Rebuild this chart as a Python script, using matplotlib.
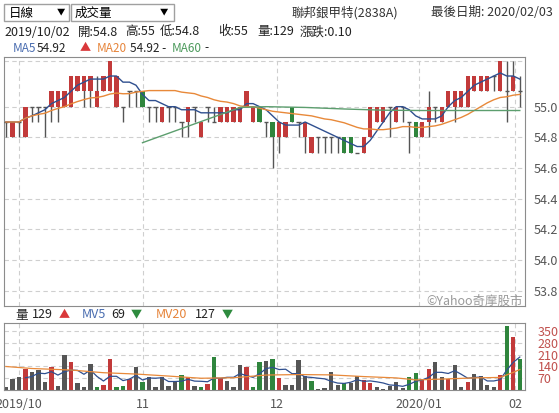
import numpy as np
import pandas as pd
import matplotlib
matplotlib.use("Agg")
import matplotlib.pyplot as plt
from matplotlib.patches import Rectangle

plt.rcParams['font.family'] = ['Noto Sans CJK TC', 'DejaVu Sans']

# daily candles (oldest first)
opens = [54.9, 54.8, 54.9, 54.8, 55.0, 55.0, 55.0, 55.0, 55.0, 55.0,
         55.0, 55.1, 55.1, 55.1, 55.0, 55.1, 55.1, 55.0, 55.0, 55.1,
         55.1, 55.1, 55.0, 55.0, 54.9, 55.0, 55.0, 54.9, 54.9, 55.0,
         54.8, 55.0, 54.9, 54.9, 54.9, 54.9, 54.9, 55.0, 54.9, 55.0,
         54.9, 54.9, 54.8, 54.8, 55.0, 54.9, 54.8, 54.7, 54.8, 54.8,
         54.8, 54.8, 54.8, 54.8, 54.7, 54.7, 54.8, 54.9, 54.9, 55.0,
         54.9, 55.0, 54.9, 54.9, 54.8, 54.9, 55.0, 54.9, 55.0, 55.0,
         55.0, 55.0, 55.1, 55.1, 55.1, 55.2, 55.1, 55.1, 55.1, 55.1]
highs = [54.9, 54.9, 54.9, 55.0, 55.0, 55.0, 55.0, 55.1, 55.1, 55.1,
         55.2, 55.2, 55.2, 55.2, 55.2, 55.2, 55.3, 55.2, 55.0, 55.1,
         55.1, 55.1, 55.0, 55.0, 55.0, 55.0, 55.0, 54.9, 55.0, 55.0,
         54.9, 55.0, 55.0, 55.0, 55.0, 55.0, 55.0, 55.1, 55.0, 55.0,
         54.9, 54.9, 54.9, 54.9, 55.0, 54.9, 54.9, 54.8, 54.8, 54.8,
         54.8, 54.8, 54.8, 54.8, 54.7, 54.8, 55.0, 55.0, 55.0, 55.0,
         55.0, 55.0, 54.9, 54.9, 54.9, 55.1, 55.0, 55.0, 55.1, 55.1,
         55.1, 55.2, 55.2, 55.2, 55.2, 55.2, 55.3, 55.3, 55.3, 55.2]
lows = [54.8, 54.8, 54.8, 54.8, 54.9, 54.9, 54.8, 54.9, 54.9, 55.0,
        55.0, 55.1, 55.0, 55.0, 55.0, 55.1, 55.1, 55.0, 54.9, 55.0,
        55.0, 55.0, 54.9, 54.9, 54.9, 54.9, 54.9, 54.8, 54.8, 54.9,
        54.8, 54.9, 54.9, 54.9, 54.9, 54.9, 54.9, 55.0, 54.9, 54.9,
        54.8, 54.6, 54.7, 54.8, 54.9, 54.8, 54.7, 54.7, 54.7, 54.7,
        54.7, 54.7, 54.7, 54.7, 54.7, 54.7, 54.8, 54.9, 54.9, 54.8,
        54.9, 54.9, 54.7, 54.8, 54.8, 54.8, 54.9, 54.9, 55.0, 54.9,
        55.0, 55.0, 55.1, 55.1, 55.1, 55.1, 55.1, 54.9, 55.1, 55.0]
closes = [54.9, 54.9, 54.9, 55.0, 55.0, 55.0, 55.0, 55.1, 55.1, 55.1,
          55.2, 55.2, 55.2, 55.2, 55.1, 55.2, 55.3, 55.2, 55.0, 55.1,
          55.1, 55.0, 55.0, 55.0, 55.0, 55.0, 55.0, 54.9, 55.0, 55.0,
          54.9, 55.0, 54.9, 55.0, 55.0, 55.0, 55.0, 55.1, 55.0, 54.9,
          54.9, 54.8, 54.9, 54.9, 54.9, 54.9, 54.9, 54.8, 54.8, 54.8,
          54.8, 54.8, 54.7, 54.7, 54.7, 54.8, 55.0, 55.0, 55.0, 55.0,
          55.0, 55.0, 54.9, 54.8, 54.9, 55.0, 55.0, 55.0, 55.1, 55.1,
          55.1, 55.2, 55.2, 55.2, 55.2, 55.2, 55.3, 55.1, 55.2, 55.1]
volumes = [20, 65, 79, 128, 109, 122, 49, 138, 26, 211,
           168, 43, 20, 154, 20, 30, 184, 20, 26, 65,
           138, 49, 79, 20, 79, 26, 49, 89, 75, 26,
           20, 36, 198, 69, 55, 20, 148, 134, 20, 164,
           172, 184, 69, 30, 30, 178, 83, 53, 8, 10,
           105, 30, 43, 43, 83, 59, 43, 16, 8, 24,
           47, 14, 75, 99, 65, 123, 164, 75, 65, 148,
           16, 47, 95, 83, 28, 16, 87, 380, 314, 184]

# MA60 and MV20 (bar index, value)
ma60_idx = [21, 36, 40, 46, 52, 58, 64, 70, 79]
ma60_val = [54.765, 54.995, 55.0, 54.995, 54.985, 54.977, 54.975, 54.975, 54.975]
mv20_idx = [0, 4, 10, 15, 20, 25, 30, 35, 40, 45, 50, 55, 60, 63, 67, 72, 76, 78, 79]
mv20_val = [140, 128, 119, 103, 95, 83, 70, 73, 89, 92, 90, 80, 72, 60, 65, 72, 75, 105, 122]

month_pos = [2.06, 21.1, 41.7, 63.55, 78.3]
month_labels = ["2019/10", "11", "12", "2020/01", "02"]
price_ticks = [53.8, 54.0, 54.2, 54.4, 54.6, 54.8, 55.0]
vol_ticks = [70, 140, 210, 280, 350]

RED = "#c23a3a"
GREEN = "#2f853d"
GRAY = "#555555"
BLUE = "#2f4f8f"
ORANGE = "#e8893a"
MGREEN = "#5c9e6e"
GRID = "#cfcfcf"

W, H = 559, 413
fig = plt.figure(figsize=(W / 100, H / 100), dpi=100)


def px_axes(l, t, r, b):
    return fig.add_axes([l / W, 1 - b / H, (r - l) / W, (b - t) / H])


def ptext(x, y, s, **kw):
    kw.setdefault("fontsize", 9)
    kw.setdefault("va", "center")
    return fig.text(x / W, 1 - y / H, s, **kw)


ax = px_axes(4, 57, 525, 306)
axv = px_axes(4, 323, 525, 390)

df = pd.DataFrame({"o": opens, "h": highs, "l": lows, "c": closes, "v": volumes})
x = np.arange(len(df))
ma5 = df.c.rolling(5, min_periods=1).mean()
ma20 = df.c.rolling(20, min_periods=1).mean()
mv5 = df.v.rolling(5, min_periods=1).mean()

bw = 0.66
for a in (ax, axv):
    a.set_xlim(-0.29, 79.8)
    for s in a.spines.values():
        s.set_color("#8c8c8c")
    a.tick_params(length=0)
    for p in month_pos:
        a.axvline(p, color=GRID, lw=0.8, ls=(0, (4, 3)), zorder=0)

# price panel
ax.set_ylim(53.70, 55.324)
for y in price_ticks + [55.3]:
    ax.axhline(y, color=GRID, lw=0.8, ls=(0, (4, 3)), zorder=0)

for i, r in df.iterrows():
    ax.vlines(i, r.l, r.h, color=GRAY, lw=1, zorder=2)
    if r.c > r.o:
        ax.bar(i, r.c - r.o, bottom=r.o, width=bw, color=RED, zorder=3)
    elif r.c < r.o:
        ax.bar(i, r.o - r.c, bottom=r.c, width=bw, color=GREEN, zorder=3)
    else:
        ax.hlines(r.o, i - bw / 2, i + bw / 2, color=GRAY, lw=1, zorder=3)

ax.plot(x, ma5, color=BLUE, lw=1, zorder=4)
ax.plot(x, ma20, color=ORANGE, lw=1, zorder=4)
ax.plot(ma60_idx, ma60_val, color=MGREEN, lw=1, zorder=4)

ax.yaxis.tick_right()
ax.set_yticks(price_ticks)
ax.set_yticklabels([f"{t:.1f}" for t in price_ticks], fontsize=9, color=GRAY)
ax.tick_params(axis="y", pad=6)
ax.set_xticks([])
ax.text(0.995, 0.02, "©Yahoo奇摩股市", transform=ax.transAxes, ha="right",
        va="center", fontsize=9, color="#9a9a9a")

# volume panel
axv.set_ylim(0, 399)
for y in vol_ticks:
    axv.axhline(y, color=GRID, lw=0.8, ls=(0, (4, 3)), zorder=0)
chg = df.c.diff().fillna(0)
vcol = [RED if d > 1e-9 else GREEN if d < -1e-9 else GRAY for d in chg]
axv.bar(x, df.v, width=bw, color=vcol, zorder=2)
axv.plot(x[3:], mv5[3:], color=BLUE, lw=0.9, zorder=3)
axv.plot(mv20_idx, mv20_val, color=ORANGE, lw=0.9, zorder=3)
axv.yaxis.tick_right()
axv.set_yticks(vol_ticks)
axv.set_yticklabels([str(t) for t in vol_ticks], fontsize=9, color="#c0504d")
axv.tick_params(axis="y", pad=9)
axv.set_xticks(month_pos)
axv.set_xticklabels(month_labels, fontsize=9, color=GRAY)
axv.tick_params(axis="x", pad=6)

# header: dropdowns
for (l, r) in [(4, 69), (71, 174)]:
    fig.add_artist(Rectangle((l / W, 1 - 21 / H), (r - l) / W, 17 / H,
                             transform=fig.transFigure, fill=False,
                             ec="#a0a0a0", lw=1))
ptext(9, 13, "日線")
ptext(57, 12, "▼", fontsize=6)
ptext(75, 13, "成交量")
ptext(160, 12, "▼", fontsize=6)

ptext(292, 13, "聯邦銀甲特(2838A)", color="#333333")
ptext(553, 13, "最後日期: 2020/02/03", ha="right", color="#333333")

row2 = [(4, "2019/10/02"), (78, "開:54.8"), (125, "高:55"), (160, "低:54.8"),
        (218, "收:55"), (257, "量:129"), (300, "漲跌:0.10")]
for px, s in row2:
    ptext(px, 32, s, color="#222222")

ma_row = [(13, "MA5", "#4a6db0"), (37, "54.92", "#222222"),
          (97, "MA20", "#e6843a"), (130, "54.92 -", "#222222"),
          (172, "MA60", "#4c9a5c"), (204, "-", "#222222")]
for px, s, c in ma_row:
    ptext(px, 48, s, color=c, fontsize=8.5)
ptext(80, 48, "▲", color="#d9383a", fontsize=8)

ptext(15, 315, "量", color="#222222")
ptext(32, 315, "129", color="#222222")
ptext(59, 315, "▲", color="#d9383a", fontsize=8)
ptext(82, 315, "MV5", color="#4a6db0")
ptext(111, 315, "69", color="#222222")
ptext(131, 315, "▼", color="#2e8b3e", fontsize=8)
ptext(156, 315, "MV20", color="#e6843a")
ptext(195, 315, "127", color="#222222")
ptext(222, 315, "▼", color="#2e8b3e", fontsize=8)

fig.savefig("out.png", dpi=100)
